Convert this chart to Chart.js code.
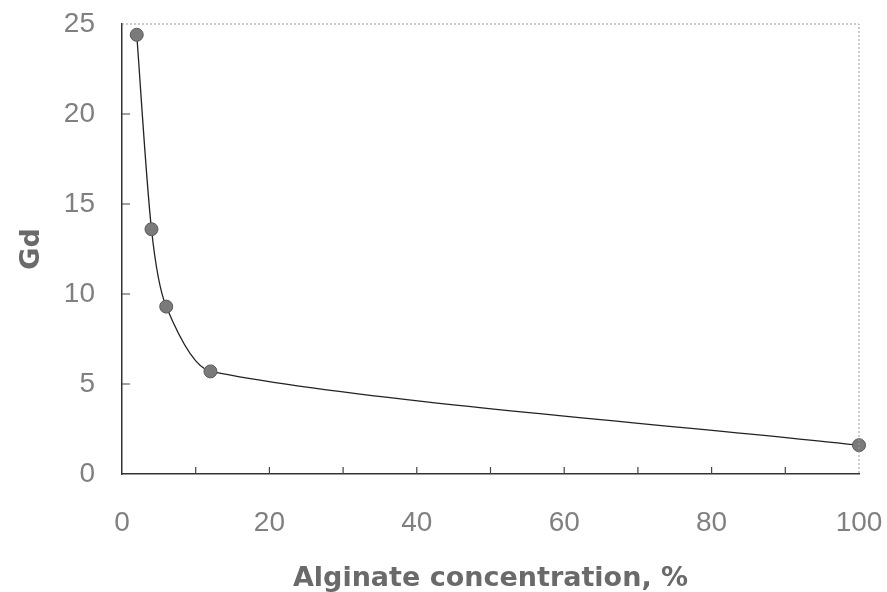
<!DOCTYPE html>
<html>
<head>
<meta charset="utf-8">
<script src="https://cdn.jsdelivr.net/npm/chart.js@4"></script>
<style>
  body { margin: 0; background: #fff; }
  #wrap { width: 887px; height: 592px; }
</style>
</head>
<body>
<div id="wrap"><canvas id="myChart" width="887" height="592"></canvas></div>
<script>
// data
const concentration = [2, 4, 6, 12, 100];
const gd = [24.4, 13.6, 9.3, 5.7, 1.6];
const xTicks = [0, 20, 40, 60, 80, 100];
const yTicks = [0, 5, 10, 15, 20, 25];

// inward ticks + dotted top/right frame
const framePlugin = {
    id: "frame",
    afterDraw(chart) {
        const { ctx, chartArea: a, scales } = chart;
        ctx.save();
        ctx.strokeStyle = "#444";
        ctx.lineWidth = 1.2;
        ctx.beginPath();
        for (let v = 10; v < 100; v += 10) {
            const px = scales.x.getPixelForValue(v);
            ctx.moveTo(px, a.bottom);
            ctx.lineTo(px, a.bottom - 7);
        }
        for (let v = 5; v < 25; v += 5) {
            const py = scales.y.getPixelForValue(v);
            ctx.moveTo(a.left, py);
            ctx.lineTo(a.left + 8, py);
        }
        ctx.stroke();
        ctx.strokeStyle = "#999";
        ctx.lineWidth = 1;
        ctx.setLineDash([2, 2]);
        ctx.beginPath();
        ctx.moveTo(a.left, a.top);
        ctx.lineTo(a.right, a.top);
        ctx.lineTo(a.right, a.bottom);
        ctx.stroke();
        ctx.restore();
    }
};

const ctx = document.getElementById("myChart").getContext("2d");
const myChart = new Chart(ctx, {
    type: "line",
    data: {
        datasets: [{
            data: concentration.map((c, i) => ({ x: c, y: gd[i] })),
            borderColor: "#222",
            borderWidth: 1.3,
            tension: 0.25,
            pointRadius: 6.5,
            pointBackgroundColor: "#7a7a7a",
            pointBorderColor: "#5a5a5a",
            pointBorderWidth: 1,
            clip: false,
        }],
    },
    options: {
        responsive: false,
        animation: false,
        layout: { padding: { top: 24, right: 28, left: 0, bottom: 0 } },
        plugins: { legend: { display: false }, tooltip: { enabled: false } },
        scales: {
            x: {
                type: "linear",
                min: 0,
                max: 100,
                afterFit: (s) => {
                    s.height = 118;
                    s.paddingLeft = 0;
                    s.paddingRight = 0;
                },
                afterBuildTicks: (s) => { s.ticks = xTicks.map((v) => ({ value: v })); },
                grid: { display: false, drawTicks: false },
                border: { display: true, color: "#333", width: 1.5 },
                ticks: {
                    padding: 32,
                    color: "#808080",
                    font: { family: "Liberation Sans", size: 28 },
                },
                title: {
                    display: true,
                    text: "Alginate concentration, %",
                    color: "#6a6a6a",
                    font: { family: "DejaVu Sans", size: 27, weight: "bold", lineHeight: 1.0 },
                    padding: { top: 18, bottom: 0 },
                },
            },
            y: {
                type: "linear",
                min: 0,
                max: 25,
                afterFit: (s) => {
                    s.width = 122;
                    s.paddingTop = 0;
                    s.paddingBottom = 0;
                },
                afterBuildTicks: (s) => { s.ticks = yTicks.map((v) => ({ value: v })); },
                grid: { display: false, drawTicks: false },
                border: { display: true, color: "#333", width: 1.5 },
                ticks: {
                    padding: 27,
                    color: "#808080",
                    font: { family: "Liberation Sans", size: 28 },
                },
                title: {
                    display: true,
                    text: "Gd",
                    color: "#6a6a6a",
                    font: { family: "DejaVu Sans", size: 27, weight: "bold" },
                    padding: { top: 16, bottom: 0 },
                },
            },
        },
    },
    plugins: [framePlugin],
});
</script>
</body>
</html>
